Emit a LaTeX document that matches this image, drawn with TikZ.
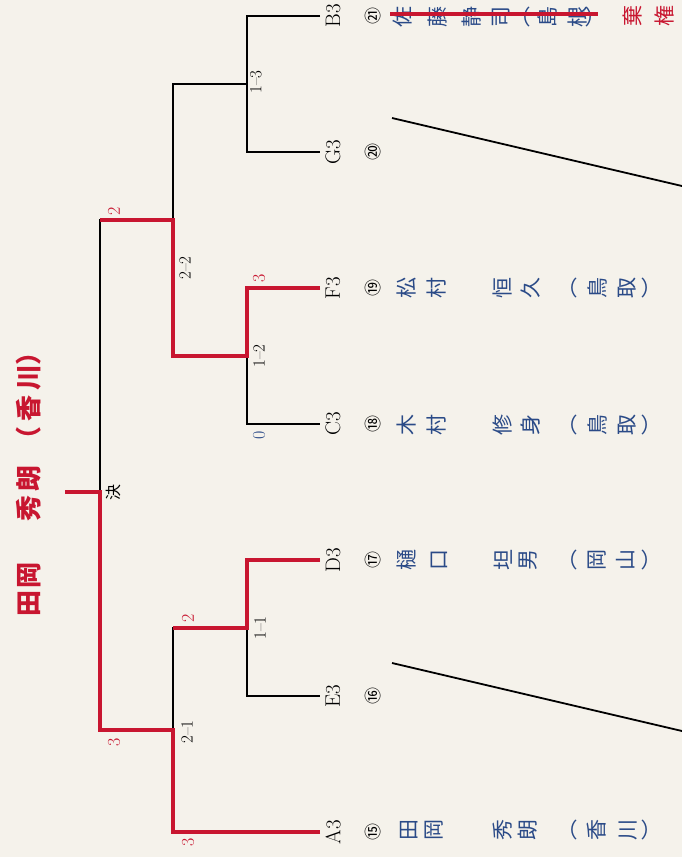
\documentclass[tikz,border=0pt]{standalone}
\usepackage{fontspec}
\usepackage{xcolor}
\newfontfamily\jpfont{Noto Sans CJK JP}
\definecolor{bracketred}{RGB}{200,22,48}
\definecolor{nameblue}{RGB}{42,74,135}
\definecolor{paper}{RGB}{245,242,235}

\begin{document}
\begin{tikzpicture}[x=1pt, y=-1pt,
    bline/.style={black, line width=1.1pt},
    rline/.style={bracketred, line width=4.8pt},
    diag/.style={black, line width=1.8pt},
    plabel/.style={rotate=90, inner sep=0pt, font=\fontsize{21}{21}\selectfont},
    seed/.style={rotate=90, inner sep=0pt, font=\jpfont\fontsize{17}{17}\selectfont},
    pname/.style={rotate=90, inner sep=0pt, nameblue, font=\jpfont\fontsize{21}{21}\selectfont},
    headline/.style={rotate=90, inner sep=0pt, bracketred, font=\jpfont\bfseries\fontsize{26}{26}\selectfont},
    forfeit/.style={rotate=90, inner sep=0pt, bracketred, font=\jpfont\fontsize{21}{21}\selectfont},
    score/.style={rotate=90, inner sep=0pt, font=\fontsize{18}{18}\selectfont},
    match/.style={rotate=90, inner sep=0pt, font=\fontsize{17}{17}\selectfont}
]
    \useasboundingbox (0,0) rectangle (682,857);
    \fill[paper] (0,0) rectangle (682,857);

    % ends of the entrant lines
    \coordinate (pB) at (320,16);
    \coordinate (pG) at (320,152);
    \coordinate (pF) at (320,288);
    \coordinate (pC) at (320,424);
    \coordinate (pD) at (320,560);
    \coordinate (pE) at (320,696);
    \coordinate (pA) at (320,832);

    % match junctions
    \coordinate (m13) at (247,84);
    \coordinate (m12) at (247,356);
    \coordinate (m11) at (247,628);
    \coordinate (m22) at (173,220);
    \coordinate (m21) at (173,730);
    \coordinate (fin) at (100,492);
    \coordinate (champ) at (65,492);

    % bracket
    \draw[bline] (pB) -| (m13) |- (pG);
    \draw[bline] (pF) -| (m12) |- (pC);
    \draw[bline] (pD) -| (m11) |- (pE);
    \draw[bline] (m13) -| (m22) |- (m12);
    \draw[bline] (m11) -| (m21) |- (pA);
    \draw[bline] (m22) -| (fin) |- (m21);

    % winners
    \draw[rline] (pA) -| (m21) -| (fin) -- (champ);
    \draw[rline] (pD) -| (m11) -- (m11 -| m21);
    \draw[rline] (pF) -| (m12) -| (m22) -- (m22 -| fin);

    % match numbers
    \node[match] (r13) at (256,82) {1--3};
    \node[match] (r12) at (259,356) {1--2};
    \node[match] (r11) at (260,628) {1--1};
    \node[match] (r22) at (185,268) {2--2};
    \node[match] (r21) at (187,732) {2--1};
    \node[match, font=\jpfont\fontsize{16}{16}\selectfont] (kessho) at (113,492) {決};

    % scores
    \node[score, bracketred] (sc1) at (114,211) {2};
    \node[score, bracketred] (sc2) at (114,742) {3};
    \node[score, bracketred] (sc3) at (259,278) {3};
    \node[score, nameblue] (sc4) at (259,435) {0};
    \node[score, bracketred] (sc5) at (188,618) {2};
    \node[score, bracketred] (sc6) at (188,842) {3};

    % entrants
    \node[plabel] (lB) at (333,16) {B3};
    \node[plabel] (lG) at (333,152) {G3};
    \node[plabel] (lF) at (333,288) {F3};
    \node[plabel] (lC) at (333,424) {C3};
    \node[plabel] (lD) at (333,560) {D3};
    \node[plabel] (lE) at (333,696) {E3};
    \node[plabel] (lA) at (333,832) {A3};

    \node[seed] (nB) at (373,16) {㉑};
    \node[seed] (nG) at (373,152) {⑳};
    \node[seed] (nF) at (373,288) {⑲};
    \node[seed] (nC) at (373,424) {⑱};
    \node[seed] (nD) at (373,560) {⑰};
    \node[seed] (nE) at (373,696) {⑯};
    \node[seed] (nA) at (373,832) {⑮};

    \foreach \c/\x [count=\i] in {佐/403,藤/438,静/472,司/501,︵/527,島/547,根/578,︶/595}
        \node[pname] (wB\i) at (\x,17) {\c};
    \foreach \c/\x [count=\i] in {松/407,村/437,恒/503,久/531,︵/574,鳥/597,取/627,︶/651}
        \node[pname] (wF\i) at (\x,288) {\c};
    \foreach \c/\x [count=\i] in {木/407,村/437,修/503,身/530,︵/574,鳥/597,取/627,︶/651}
        \node[pname] (wC\i) at (\x,425) {\c};
    \foreach \c/\x [count=\i] in {樋/407,口/439,坦/503,男/528,︵/574,岡/597,山/626,︶/651}
        \node[pname] (wD\i) at (\x,560) {\c};
    \foreach \c/\x [count=\i] in {田/409,岡/434,秀/503,朗/528,︵/574,香/597,川/628,︶/651}
        \node[pname] (wA\i) at (\x,830) {\c};

    % withdrawn entrant
    \coordinate (strikeS) at (390,14);
    \coordinate (strikeE) at (598,14);
    \draw[bracketred, line width=3.8pt] (strikeS) -- (strikeE);
    \node[forfeit] (ki1) at (633,16) {棄};
    \node[forfeit] (ki2) at (664,16) {権};

    % empty slots
    \coordinate (eG1) at (392,118);
    \coordinate (eG2) at (682,186);
    \coordinate (eE1) at (392,663);
    \coordinate (eE2) at (682,731);
    \draw[diag] (eG1) -- (eG2);
    \draw[diag] (eE1) -- (eE2);

    % champion
    \foreach \c/\y [count=\i] in {田/603,岡/575,秀/508,朗/478,（/439,香/408,川/377,）/352}
        \node[headline] (ch\i) at (29,\y) {\c};
\end{tikzpicture}
\end{document}
